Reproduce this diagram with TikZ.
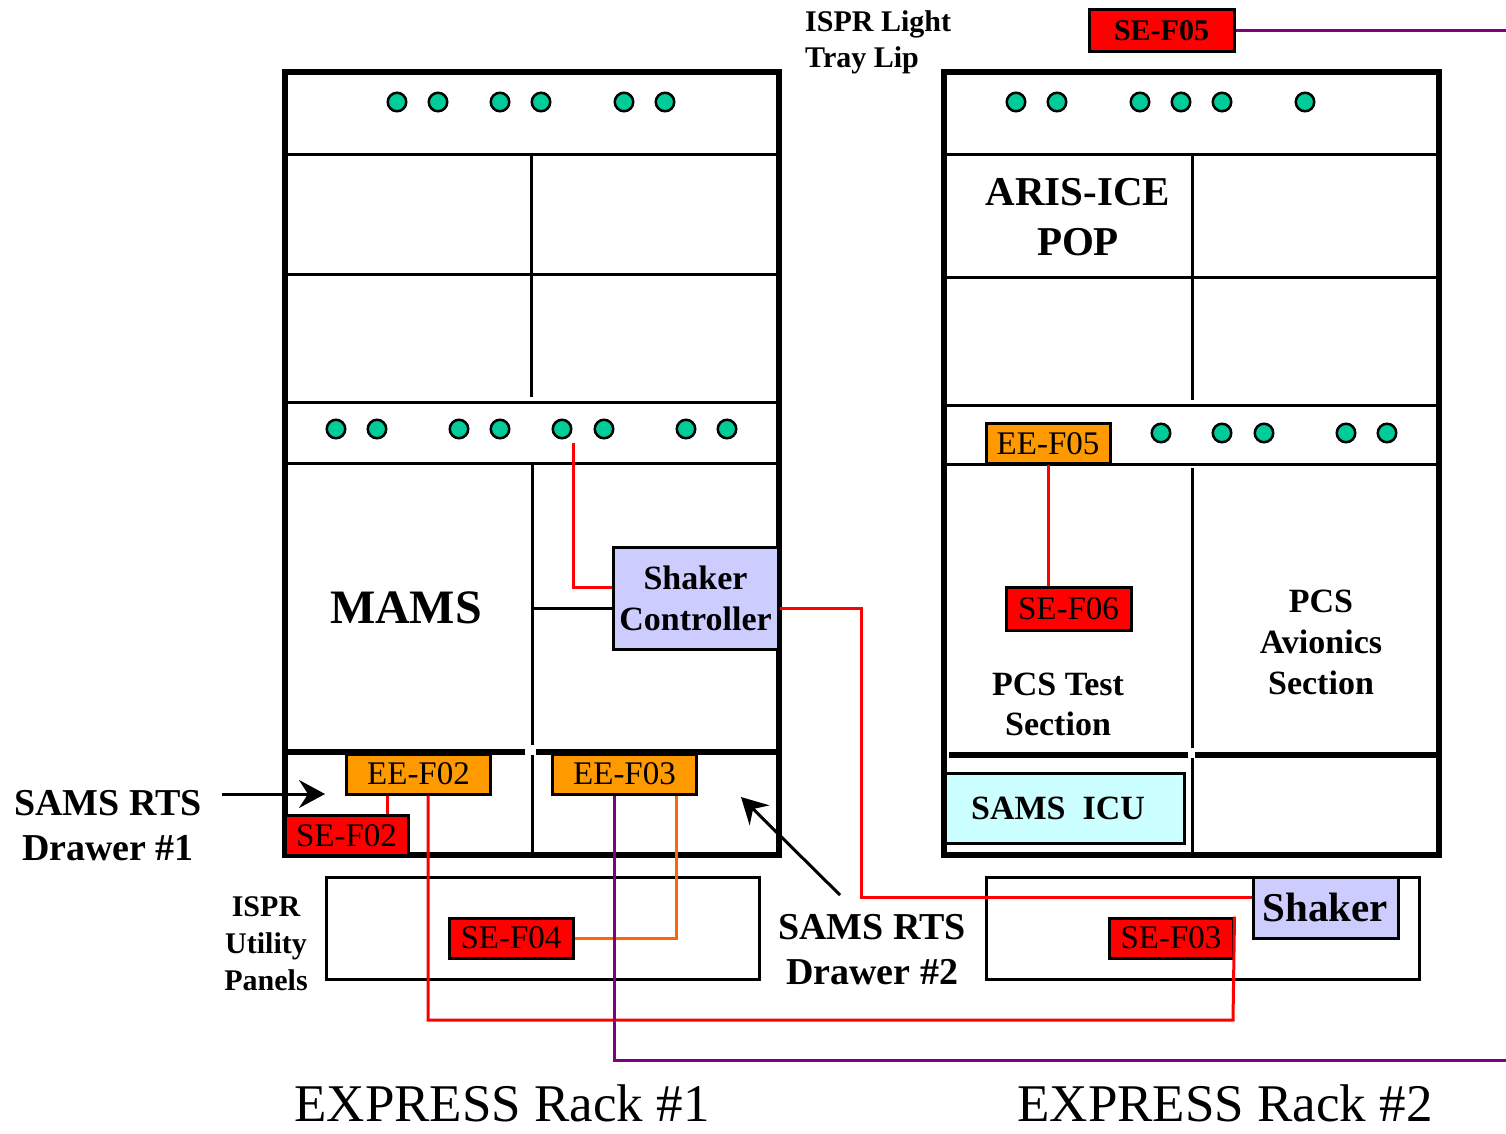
\documentclass[tikz,border=0pt]{standalone}
\usepackage{fontspec}
\setmainfont{Liberation Serif}
\usetikzlibrary{arrows.meta}
\definecolor{dotgreen}{RGB}{0,204,153}
\definecolor{eeorange}{RGB}{255,153,0}
\definecolor{lineorange}{RGB}{255,102,0}
\definecolor{wirepurple}{RGB}{128,0,128}
\definecolor{lavender}{RGB}{204,204,255}
\definecolor{icucyan}{RGB}{204,255,255}
\tikzset{
  rackline/.style={line width=5.5pt},
  divline/.style={line width=3pt},
  thickline/.style={line width=5.5pt},
  ledot/.style={circle, draw, line width=2.5pt, fill=dotgreen, minimum size=18.5pt, inner sep=0pt},
  fusebox/.style={draw, line width=3pt, inner sep=0pt, minimum width=124pt, minimum height=40pt, font=\fontsize{33}{33}\selectfont},
  eebox/.style={fusebox, fill=eeorange},
  sebox/.style={fusebox, fill=red},
  lbl/.style={inner sep=0pt, align=center},
  wire/.style={line width=3pt, red},
  pointer/.style={line width=3pt, -{Stealth[length=26pt, width=28pt, inset=9pt]}},
}
\begin{document}
\begin{tikzpicture}[x=1pt, y=-1pt]
\useasboundingbox (0,0) rectangle (1506,1133);

% ---------- Rack 1 ----------
\draw[rackline] (285,72) rectangle (779,855);
\draw[divline] (285,154) -- (779,154) (285,274) -- (779,274)
  (285,402) -- (779,402) (285,463) -- (779,463);
\draw[divline] (531,154) -- (531,397) (532,463) -- (532,745) (532,755) -- (532,855);
\draw[thickline] (285,752) -- (525,752) (536,752) -- (779,752);
\foreach \x [count=\i] in {397,438,500,541,624,665}
  \node[ledot] (ra\i) at (\x,102) {};
\foreach \x [count=\i] in {336,377,459,500,562,604,686,727}
  \node[ledot] (rb\i) at (\x,429) {};

\node[draw, line width=3pt, fill=lavender, inner sep=0pt, minimum width=165pt, minimum height=102pt,
  align=center, font=\fontsize{34}{41}\selectfont\bfseries] (shakerctl) at (695.5,598) {Shaker\\Controller};
\draw[divline] (532,608) -- ([yshift=-10pt]shakerctl.west);

\node[lbl, font=\fontsize{48}{48}\selectfont\bfseries] (mams) at (406,608) {MAMS};

\node[eebox, minimum width=144pt] (eef02) at (418.5,774) {EE-F02};
\node[eebox, minimum width=144pt] (eef03) at (624.5,774) {EE-F03};
\node[sebox, minimum width=123pt] (sef02) at (346.5,835.5) {SE-F02};

% ---------- Rack 2 ----------
\draw[rackline] (944,72) rectangle (1439,855);
\draw[divline] (944,154) -- (1439,154) (944,277) -- (1439,277)
  (944,405) -- (1439,405) (944,464) -- (1439,464);
\draw[divline] (1192,154) -- (1192,400) (1192,468) -- (1192,748) (1192,758) -- (1192,855);
\draw[thickline] (949,755) -- (1188,755) (1195,755) -- (1439,755);
\foreach \x [count=\i] in {1016,1057,1140,1181,1222,1305}
  \node[ledot] (rc\i) at (\x,102) {};
\foreach \x [count=\i] in {1161,1222,1264,1346,1387}
  \node[ledot] (rd\i) at (\x,433) {};

\node[lbl, font=\fontsize{41}{50}\selectfont\bfseries] (aris) at (1078,217) {ARIS-ICE\\POP};
\node[eebox] (eef05) at (1048,443.5) {EE-F05};
\node[sebox, minimum width=125pt, minimum height=43pt] (sef06) at (1068.5,608.5) {SE-F06};
\node[lbl, font=\fontsize{34}{40}\selectfont\bfseries] (pcstest) at (1058,704) {PCS Test\\Section};
\node[lbl, font=\fontsize{34}{41}\selectfont\bfseries] (pcsavi) at (1321,642) {PCS\\Avionics\\Section};
\node[draw, line width=3pt, fill=icucyan, inner sep=0pt, minimum width=239pt, minimum height=70pt] (icu) at (1064.5,808) {};
\node[lbl, font=\fontsize{34}{34}\selectfont\bfseries] (icutext) at (1058,808) {SAMS\ \ ICU};

% ---------- Utility panels ----------
\draw[divline] (326,877) rectangle (759,979);
\draw[divline] (986,877) rectangle (1419,979);
\node[sebox] (sef04) at (511,938) {SE-F04};
\node[sebox] (sef03) at (1171,938) {SE-F03};
\node[draw, line width=3pt, fill=lavender, inner sep=0pt, minimum width=145pt, minimum height=61pt,
  font=\fontsize{41}{41}\selectfont\bfseries] (shaker) at (1325.5,907.5) {Shaker};

% ---------- Top labels ----------
\node[sebox, minimum width=145pt, minimum height=42pt, font=\fontsize{30}{30}\selectfont\bfseries] (sef05) at (1161.5,30.5) {SE-F05};
\node[inner sep=0pt, align=left, anchor=west, font=\fontsize{30}{36}\selectfont\bfseries] (ispr) at (805,42) {ISPR Light\\Tray Lip};

% ---------- Side labels ----------
\node[lbl, font=\fontsize{38}{45}\selectfont\bfseries] (rts1) at (108,826) {SAMS RTS\\Drawer \#1};
\node[lbl, font=\fontsize{38}{45}\selectfont\bfseries] (rts2) at (872,950) {SAMS RTS\\Drawer \#2};
\node[lbl, font=\fontsize{30}{37}\selectfont\bfseries] (util) at (266,944) {ISPR\\Utility\\Panels};
\node[lbl, anchor=base, font=\fontsize{53}{53}\selectfont] (rack1) at (502,1121) {EXPRESS Rack \#1};
\node[lbl, anchor=base, font=\fontsize{53}{53}\selectfont] (rack2) at (1225,1121) {EXPRESS Rack \#2};

% ---------- Pointers ----------
\coordinate (p1s) at (222,794);
\coordinate (p1e) at (325,794);
\coordinate (p2s) at (840,895);
\coordinate (p2e) at (741,797);
\draw[pointer] (p1s) -- (p1e);
\draw[pointer] (p2s) -- (p2e);

% ---------- Wires ----------
\coordinate (scin) at (573,443);
\coordinate (pend1) at (1506,1060);
\coordinate (pend2) at (1506,30.5);
\draw[wire] (scin) |- ([yshift=11pt]shakerctl.west);
\draw[wire] ([yshift=-10pt]shakerctl.east) -- (861,608) -- (861,897) -- ([yshift=10.5pt]shaker.west);
\draw[wire] ([xshift=-31.5pt]eef02.south) -- ([xshift=-31.5pt]eef02.south |- sef02.north);
\draw[wire] ([xshift=9.5pt]eef02.south) -- (428,1020) -- (1233,1020) -- (sef03.north east);
\draw[wire] (eef05.south) -- (eef05.south |- sef06.north);
\draw[line width=3pt, lineorange] ([xshift=51.5pt]eef03.south) |- (sef04.east);
\draw[line width=3pt, wirepurple] ([xshift=-10.5pt]eef03.south) |- (pend1);
\draw[line width=3pt, wirepurple] (sef05.east) -- (pend2);
\end{tikzpicture}
\end{document}
